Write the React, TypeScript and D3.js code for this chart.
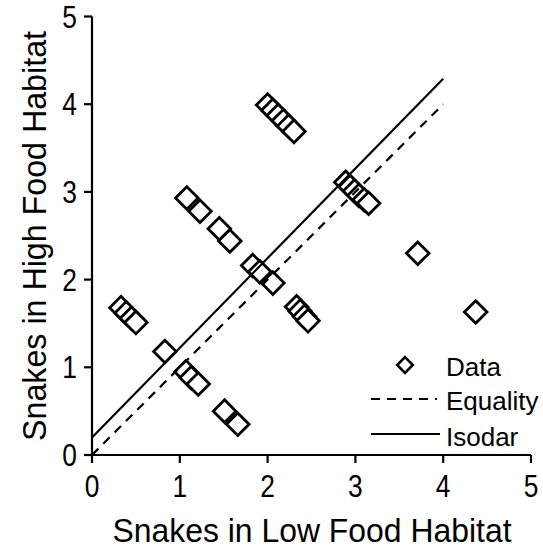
import React from "react";
import * as d3 from "d3";

// Snake counts per plot: low-food habitat (x) vs high-food habitat (y)
const lowFood = [
  2.0, 2.06, 2.12, 2.18, 2.24, 2.3,
  2.89, 2.94, 2.99, 3.04, 3.1, 3.15,
  1.08, 1.23,
  1.45, 1.57,
  1.83, 1.91, 2.06,
  2.33, 2.37, 2.42, 2.46,
  0.33, 0.39, 0.45, 0.5,
  0.83,
  1.07, 1.13, 1.21,
  1.51, 1.66,
  3.71,
  4.37,
];
const highFood = [
  3.99, 3.93, 3.87, 3.81, 3.75, 3.69,
  3.11, 3.06, 3.01, 2.96, 2.91, 2.87,
  2.93, 2.78,
  2.58, 2.44,
  2.16, 2.09, 1.96,
  1.69, 1.64, 1.58, 1.53,
  1.68, 1.62, 1.56, 1.51,
  1.18,
  0.95, 0.88, 0.81,
  0.5, 0.35,
  2.3,
  1.63,
];

const axisTicks = [0, 1, 2, 3, 4, 5];

// Reference lines
const lineRange = [0, 4];
const equalityIntercept = 0;
const equalitySlope = 1;
const isodarIntercept = 0.2;
const isodarSlope = 1.0225;

const legendLabels = ["Data", "Equality", "Isodar"];
const xTitle = "Snakes in Low Food Habitat";
const yTitle = "Snakes in High Food Habitat";

const W = 543;
const H = 552;
const font = "'Liberation Sans', Arial, sans-serif";

export default function App() {
  const x = d3.scaleLinear().domain([0, 5]).range([92, 531]);
  const y = d3.scaleLinear().domain([0, 5]).range([455, 16.5]);

  const diamond = (r: number) => `M0,${-r}L${r},0L0,${r}L${-r},0Z`;

  const eqPath = d3
    .line<number>()
    .x((v) => x(v))
    .y((v) => y(equalityIntercept + equalitySlope * v))(lineRange) as string;
  const isoPath = d3
    .line<number>()
    .x((v) => x(v))
    .y((v) => y(isodarIntercept + isodarSlope * v))(lineRange) as string;

  const pts = lowFood.map((v, i) => [v, highFood[i]]);

  return (
    <svg
      width={W}
      height={H}
      style={{ position: "absolute", left: 0, top: 0, background: "#fff" }}
      fontFamily={font}
    >
      {/* markers */}
      {pts.map(([a, b], i) => (
        <path
          key={i}
          d={diamond(11.3)}
          transform={`translate(${x(a)},${y(b)})`}
          fill="#fff"
          stroke="#000"
          strokeWidth={2.8}
          strokeLinejoin="miter"
        />
      ))}

      {/* reference lines */}
      <path d={eqPath} fill="none" stroke="#000" strokeWidth={2.2} strokeDasharray="9,7" />
      <path d={isoPath} fill="none" stroke="#000" strokeWidth={2.2} />

      {/* axes */}
      <line x1={x(0)} x2={x(5)} y1={y(0)} y2={y(0)} stroke="#000" strokeWidth={2.2} />
      <line x1={x(0)} x2={x(0)} y1={y(0)} y2={y(5)} stroke="#000" strokeWidth={2.2} />
      {axisTicks.map((t) => (
        <g key={"x" + t}>
          <line x1={x(t)} x2={x(t)} y1={y(0)} y2={y(0) + 8} stroke="#000" strokeWidth={2.2} />
          <text
            transform={`translate(${x(t)},497) scale(0.85,1)`}
            textAnchor="middle"
            fontSize={31}
            fill="#000"
          >
            {t}
          </text>
        </g>
      ))}
      {axisTicks.map((t) => (
        <g key={"y" + t}>
          <line x1={x(0) - 8} x2={x(0)} y1={y(t)} y2={y(t)} stroke="#000" strokeWidth={2.2} />
          <text
            transform={`translate(77,${y(t) + 11}) scale(0.85,1)`}
            textAnchor="end"
            fontSize={31}
            fill="#000"
          >
            {t}
          </text>
        </g>
      ))}

      {/* axis titles */}
      <text
        x={312}
        y={542}
        textAnchor="middle"
        fontSize={34}
        textLength={399}
        lengthAdjust="spacingAndGlyphs"
        fill="#000"
      >
        {xTitle}
      </text>
      <text
        transform={`translate(46,236) rotate(-90)`}
        textAnchor="middle"
        fontSize={34}
        textLength={410}
        lengthAdjust="spacingAndGlyphs"
        fill="#000"
      >
        {yTitle}
      </text>

      {/* legend */}
      <g fontSize={26} fill="#000">
        <path d={diamond(7.8)} transform="translate(405,365)" fill="#fff" stroke="#000" strokeWidth={2.6} />
        <text x={446} y={376}>{legendLabels[0]}</text>
        <line x1={371} x2={437} y1={399} y2={399} stroke="#000" strokeWidth={2.2} strokeDasharray="9,7" />
        <text x={446} y={410}>{legendLabels[1]}</text>
        <line x1={371} x2={440} y1={434} y2={434} stroke="#000" strokeWidth={2.2} />
        <text x={446} y={446}>{legendLabels[2]}</text>
      </g>
    </svg>
  );
}
